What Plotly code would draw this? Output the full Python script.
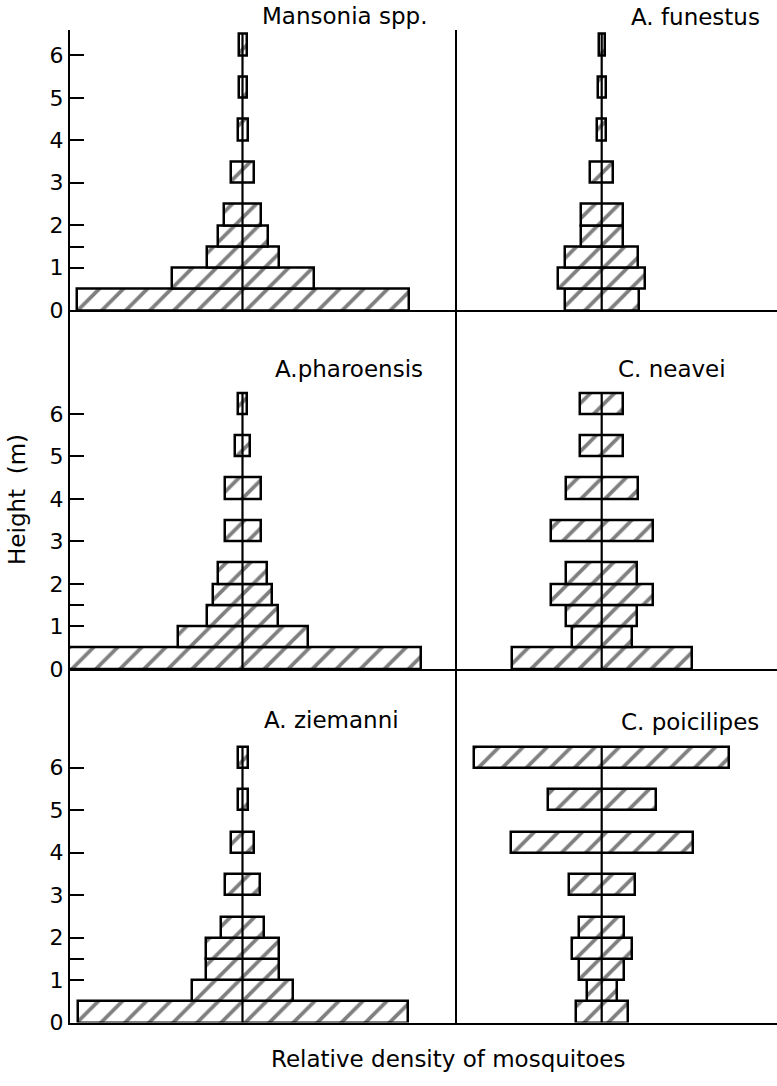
import plotly.graph_objects as go

# ---------------- data ----------------
# lower bound of each 0.5 m sampling band (m)
heights = [0, 0.5, 1, 1.5, 2, 3, 4, 5, 6]
band = 0.5

# relative density (full kite width, arbitrary units) per band
mansonia = [332, 142, 72, 50, 37, 23, 10, 8, 8]
funestus = [74, 87, 73, 42, 42, 23, 9, 8, 6]
pharoensis = [356, 130, 71, 59, 49, 36, 36, 15, 9]
neavei = [180, 60, 71, 102, 71, 102, 72, 43, 43]
ziemanni = [330, 101, 73, 73, 43, 35, 23, 10, 10]
poicilipes = [52, 30, 45, 60, 45, 66, 182, 108, 255]

species = ["Mansonia spp.", "A. funestus", "A.pharoensis",
           "C. neavei", "A. ziemanni", "C. poicilipes"]
series = [mansonia, funestus, pharoensis, neavei, ziemanni, poicilipes]

y_tick_vals = [0, 1, 1.5, 2, 3, 4, 5, 6]
y_tick_text = ["0", "1", "", "2", "3", "4", "5", "6"]

y_title = "Height\u00a0 (m)"
x_title = "Relative density of mosquitoes"

# ---------------- layout geometry (pixels) ----------------
W, H = 777, 1086
col_px = [(70, 457), (457, 777)]
row_px = [(30, 314), (314, 677), (677, 1035)]
center_px = [242.5, 601.7]
PX_PER_M = 43.0
FONT = "DejaVu Sans"

# title label positions (pixel centres)
title_pos = [(344, 16), (695, 17), (349, 373), (672, 373), (331, 729), (690, 731)]

fig = go.Figure()
layout = {}
annotations = []

for i, (name, vals) in enumerate(zip(species, series)):
    r, c = divmod(i, 2)
    k = i + 1
    xa = "x" if k == 1 else f"x{k}"
    ya = "y" if k == 1 else f"y{k}"

    fig.add_trace(go.Bar(
        orientation="h",
        y=[h + band / 2 for h in heights],
        x=vals,
        base=[-v / 2 for v in vals],
        width=band,
        marker=dict(
            color="white",
            line=dict(color="black", width=2.5),
            pattern=dict(shape="/", fgcolor="black", bgcolor="white",
                         size=17, solidity=0.22, fillmode="overlay"),
        ),
        xaxis=xa, yaxis=ya, showlegend=False, hoverinfo="skip",
    ))
    # axis of symmetry of the kite
    fig.add_trace(go.Scatter(
        x=[0, 0], y=[0, max(heights) + band],
        mode="lines", line=dict(color="black", width=2.2),
        xaxis=xa, yaxis=ya, showlegend=False, hoverinfo="skip",
    ))

    x0, x1 = col_px[c]
    y0, y1 = row_px[r]
    cx = center_px[c]
    xkey = "xaxis" if k == 1 else f"xaxis{k}"
    ykey = "yaxis" if k == 1 else f"yaxis{k}"
    layout[xkey] = dict(
        domain=[x0 / W, x1 / W], range=[x0 - cx, x1 - cx], anchor=ya,
        showline=True, linecolor="black", linewidth=2.2,
        ticks="", showticklabels=False, showgrid=False, zeroline=False,
        fixedrange=True,
    )
    yax = dict(
        domain=[1 - y1 / H, 1 - y0 / H], range=[0, (y1 - y0) / PX_PER_M],
        anchor=xa, showline=True, linecolor="black", linewidth=2.2,
        showgrid=False, zeroline=False, fixedrange=True,
    )
    if c == 0:
        yax.update(tickmode="array", tickvals=y_tick_vals, ticktext=y_tick_text,
                   ticks="inside", ticklen=14, tickwidth=2, tickcolor="black",
                   tickfont=dict(family=FONT, size=22, color="black"))
    else:
        yax.update(ticks="", showticklabels=False)
    layout[ykey] = yax

    tx, ty = title_pos[i]
    annotations.append(dict(
        text=name, x=tx / W, y=1 - ty / H, xref="paper", yref="paper",
        xanchor="center", yanchor="middle", showarrow=False,
        font=dict(family=FONT, size=23, color="black"),
    ))

annotations.append(dict(
    text=y_title, x=17 / W, y=1 - 506 / H, xref="paper", yref="paper",
    xanchor="center", yanchor="middle", showarrow=False, textangle=-90,
    font=dict(family=FONT, size=23, color="black"),
))
annotations.append(dict(
    text=x_title, x=448 / W, y=1 - 1072 / H, xref="paper", yref="paper",
    xanchor="center", yanchor="middle", showarrow=False,
    font=dict(family=FONT, size=23, color="black"),
))

fig.update_layout(
    width=W, height=H,
    margin=dict(l=0, r=0, t=0, b=0),
    paper_bgcolor="white", plot_bgcolor="white",
    barmode="overlay", bargap=0,
    annotations=annotations,
    showlegend=False,
    **layout,
)

fig.write_html("out.html", config={"displayModeBar": False})
